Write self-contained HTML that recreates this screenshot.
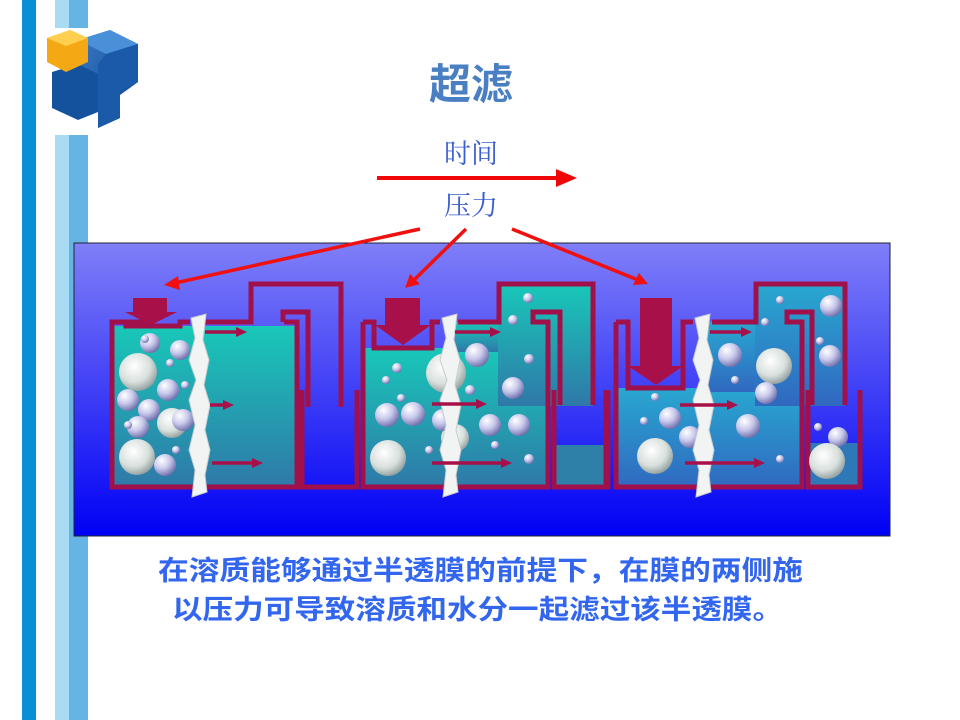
<!DOCTYPE html>
<html><head><meta charset="utf-8"><style>
html,body{margin:0;padding:0;background:#fff;width:960px;height:720px;overflow:hidden}
svg{display:block}
</style></head><body>
<svg width="960" height="720" viewBox="0 0 960 720" xmlns="http://www.w3.org/2000/svg">
<defs>
<linearGradient id="bg" x1="0" y1="0" x2="0" y2="1"><stop offset="0" stop-color="#7f7ff8"/><stop offset="1" stop-color="#0000f5"/></linearGradient>
<linearGradient id="fl" x1="0" y1="0" x2="0" y2="1"><stop offset="0" stop-color="#18c8b8"/><stop offset="1" stop-color="#2f78a8"/></linearGradient>
<linearGradient id="fl3" x1="0" y1="0" x2="0" y2="1"><stop offset="0" stop-color="#28a8d0"/><stop offset="1" stop-color="#3068c0"/></linearGradient>
<radialGradient id="b1" cx="0.35" cy="0.3" r="0.75"><stop offset="0" stop-color="#ffffff"/><stop offset="0.5" stop-color="#c8c8ec"/><stop offset="1" stop-color="#6a6aa8"/></radialGradient>
<radialGradient id="b2" cx="0.4" cy="0.35" r="0.7"><stop offset="0" stop-color="#ffffff"/><stop offset="0.6" stop-color="#d8e0dc"/><stop offset="1" stop-color="#8a9898"/></radialGradient>
<linearGradient id="cubeB" x1="0" y1="0" x2="1" y2="1"><stop offset="0" stop-color="#3a7cc8"/><stop offset="1" stop-color="#0d3f88"/></linearGradient>
</defs>

<rect x="22" y="0" width="14" height="720" fill="#0a8fd4"/>
<rect x="55" y="0" width="14" height="720" fill="#a8dcf5"/>
<rect x="69" y="0" width="19" height="720" fill="#66b4e4"/>
<rect x="50" y="28" width="42" height="107" fill="#fff"/>
<!-- logo -->
<polygon points="78,40 110,30 138,44 138,82 120,95 120,118 98,128 98,96 78,86" fill="url(#cubeB)"/>
<polygon points="78,40 110,30 138,44 106,54" fill="#4a90d8"/>
<polygon points="106,54 138,44 138,82 120,92 120,118 98,128 98,64" fill="#1a5aa8"/>
<polygon points="52,72 78,64 98,74 98,112 78,120 52,108" fill="#15529e"/>
<polygon points="47,38 70,30 88,38 88,62 66,72 47,62" fill="#f4a814"/>
<polygon points="47,38 70,30 88,38 66,46" fill="#ffd050"/>

<text x="471" y="99" text-anchor="middle" font-family="Liberation Sans,Noto Sans CJK SC,sans-serif" font-weight="bold" font-size="42" fill="#4a7fc1">超滤</text>
<text x="471" y="163" text-anchor="middle" font-family="Liberation Serif,Noto Serif CJK SC,serif" font-size="27" fill="#3a5fcd">时间</text>
<text x="471" y="215" text-anchor="middle" font-family="Liberation Serif,Noto Serif CJK SC,serif" font-size="27" fill="#3a5fcd">压力</text>
<line x1="377" y1="178" x2="560" y2="178" stroke="#f00808" stroke-width="4"/>
<polygon points="556,169 577,178 556,187" fill="#f00808"/>

<rect x="74" y="243" width="816" height="293" fill="url(#bg)" stroke="#223" stroke-width="1"/>

<g stroke="#f01010" stroke-width="3.5" fill="#f01010">
<line x1="420" y1="229" x2="175" y2="283"/><polygon points="164,285 178,276 180,290" stroke="none"/>
<line x1="466" y1="229" x2="414" y2="280"/><polygon points="405,288 410,274 420,284" stroke="none"/>
<line x1="512" y1="229" x2="638" y2="280"/><polygon points="648,284 633,285 639,273" stroke="none"/>
</g>

<!-- TANK 1 -->
<rect x="110" y="326" width="187" height="162" fill="url(#fl)"/>
<g fill="none" stroke="#a0104a" stroke-width="5">
<path d="M152,322 L112,322 L112,487 L297,487 L297,322 L284,322"/>
<path d="M126,322 L126,326 L180,326 L180,322 L190,322"/>
<path d="M205,322 L251,322 L251,284 L341,284 L341,407"/>
<path d="M283,322 L283,312 L308,312 L308,407"/>
<path d="M298,487 L357,487 L357,390"/>
<path d="M302,390 L302,487"/>
</g>
<polygon points="133,298 167,298 167,312 177,312 151,325 125,312 133,312" fill="#a8104a"/>

<!-- TANK 2 -->
<rect x="363" y="348" width="185" height="140" fill="url(#fl)"/>
<rect x="455" y="322" width="93" height="30" fill="url(#fl)"/>
<rect x="498" y="284" width="95" height="122" fill="url(#fl)"/>
<rect x="553" y="445" width="55" height="43" fill="#2f80a8"/>
<g fill="none" stroke="#a0104a" stroke-width="5">
<path d="M363,322 L363,487 L548,487 L548,322 L533,322 L533,312 L560,312 L560,405"/>
<path d="M363,322 L374,322 L374,348 L432,348 L432,322 L440,322"/>
<path d="M458,322 L499,322 L499,284 L593,284 L593,405"/>
<path d="M554,390 L554,487 L608,487 L608,390"/>
</g>
<polygon points="385,298 420,298 420,325 431,325 403,345 375,325 385,325" fill="#a8104a"/>

<!-- TANK 3 -->
<rect x="616" y="388" width="186" height="100" fill="url(#fl3)"/>
<rect x="705" y="322" width="97" height="70" fill="url(#fl3)"/>
<rect x="755" y="284" width="90" height="122" fill="url(#fl3)"/>
<rect x="808" y="443" width="52" height="45" fill="#2f78b8"/>
<g fill="none" stroke="#a0104a" stroke-width="5">
<path d="M616,322 L616,487 L802,487 L802,322 L787,322 L787,312 L812,312 L812,405"/>
<path d="M616,322 L628,322 L628,388 L683,388 L683,322 L693,322"/>
<path d="M712,322 L756,322 L756,284 L845,284 L845,405"/>
<path d="M808,390 L808,487 L860,487 L860,390"/>
<path d="M606,390 L606,487"/>
</g>
<polygon points="640,298 672,298 672,366 683,366 656,385 628,366 640,366" fill="#a8104a"/>

<!-- balls -->
<g>
<circle cx="138" cy="372" r="19" fill="url(#b2)"/>
<circle cx="150" cy="343" r="10" fill="url(#b1)"/>
<circle cx="180" cy="350" r="10" fill="url(#b1)"/>
<circle cx="128" cy="400" r="11" fill="url(#b1)"/>
<circle cx="168" cy="390" r="11" fill="url(#b1)"/>
<circle cx="149" cy="410" r="11" fill="url(#b1)"/>
<circle cx="172" cy="423" r="15" fill="url(#b2)"/>
<circle cx="183" cy="420" r="11" fill="url(#b1)"/>
<circle cx="138" cy="427" r="11" fill="url(#b1)"/>
<circle cx="137" cy="457" r="18" fill="url(#b2)"/>
<circle cx="165" cy="465" r="11" fill="url(#b1)"/>
<circle cx="145" cy="339" r="4" fill="url(#b1)"/>
<circle cx="170" cy="363" r="4" fill="url(#b1)"/>
<circle cx="185" cy="385" r="4" fill="url(#b1)"/>
<circle cx="176" cy="450" r="4" fill="url(#b1)"/>
<circle cx="128" cy="425" r="4" fill="url(#b1)"/>

<circle cx="446" cy="373" r="20" fill="url(#b2)"/>
<circle cx="455" cy="438" r="14" fill="url(#b2)"/>
<circle cx="443" cy="420" r="11" fill="url(#b1)"/>
<circle cx="477" cy="355" r="12" fill="url(#b1)"/>
<circle cx="413" cy="414" r="12" fill="url(#b1)"/>
<circle cx="387" cy="415" r="12" fill="url(#b1)"/>
<circle cx="388" cy="458" r="18" fill="url(#b2)"/>
<circle cx="513" cy="388" r="11" fill="url(#b1)"/>
<circle cx="490" cy="425" r="11" fill="url(#b1)"/>
<circle cx="519" cy="425" r="11" fill="url(#b1)"/>
<circle cx="397" cy="368" r="5" fill="url(#b1)"/>
<circle cx="386" cy="380" r="4" fill="url(#b1)"/>
<circle cx="401" cy="398" r="4" fill="url(#b1)"/>
<circle cx="470" cy="390" r="5" fill="url(#b1)"/>
<circle cx="495" cy="445" r="4" fill="url(#b1)"/>
<circle cx="529" cy="459" r="5" fill="url(#b1)"/>
<circle cx="528" cy="298" r="5" fill="url(#b1)"/>
<circle cx="513" cy="320" r="5" fill="url(#b1)"/>
<circle cx="529" cy="359" r="5" fill="url(#b1)"/>
<circle cx="429" cy="450" r="4" fill="url(#b1)"/>

<circle cx="774" cy="366" r="18" fill="url(#b2)"/>
<circle cx="766" cy="393" r="11" fill="url(#b1)"/>
<circle cx="730" cy="355" r="12" fill="url(#b1)"/>
<circle cx="748" cy="426" r="12" fill="url(#b1)"/>
<circle cx="670" cy="418" r="11" fill="url(#b1)"/>
<circle cx="690" cy="437" r="11" fill="url(#b1)"/>
<circle cx="655" cy="456" r="18" fill="url(#b2)"/>
<circle cx="831" cy="306" r="11" fill="url(#b1)"/>
<circle cx="830" cy="356" r="11" fill="url(#b1)"/>
<circle cx="838" cy="437" r="10" fill="url(#b1)"/>
<circle cx="827" cy="461" r="18" fill="url(#b2)"/>
<circle cx="655" cy="397" r="4" fill="url(#b1)"/>
<circle cx="644" cy="421" r="4" fill="url(#b1)"/>
<circle cx="735" cy="380" r="4" fill="url(#b1)"/>
<circle cx="780" cy="459" r="4" fill="url(#b1)"/>
<circle cx="765" cy="322" r="4" fill="url(#b1)"/>
<circle cx="780" cy="300" r="4" fill="url(#b1)"/>
<circle cx="820" cy="341" r="4" fill="url(#b1)"/>
<circle cx="818" cy="427" r="4" fill="url(#b1)"/>
</g>

<!-- membranes -->
<g fill="#f2f4f4" stroke="#c8cccc" stroke-width="1">
<path d="M191,318 L206,314 L203,340 L209,360 L204,385 L210,405 L205,430 L210,450 L205,475 L207,492 L192,497 L195,470 L189,450 L195,425 L189,400 L196,380 L189,360 L195,338 Z"/>
<path d="M442,318 L457,314 L454,340 L460,360 L455,385 L461,405 L456,430 L461,450 L456,475 L458,492 L443,497 L446,470 L440,450 L446,425 L440,400 L447,380 L440,360 L446,338 Z"/>
<path d="M695,318 L710,314 L707,340 L713,360 L708,385 L714,405 L709,430 L714,450 L709,475 L711,492 L696,497 L699,470 L693,450 L699,425 L693,400 L700,380 L693,360 L699,338 Z"/>
</g>

<!-- inner flow arrows -->
<g stroke="#a8104a" stroke-width="3.5" fill="#a8104a">
<line x1="205" y1="332" x2="238" y2="332"/><polygon points="236,327 247,332 236,337" stroke="none"/>
<line x1="210" y1="405" x2="225" y2="405"/><polygon points="223,400 234,405 223,410" stroke="none"/>
<line x1="212" y1="463" x2="254" y2="463"/><polygon points="252,458 263,463 252,468" stroke="none"/>
<line x1="455" y1="332" x2="492" y2="332"/><polygon points="490,327 501,332 490,337" stroke="none"/>
<line x1="432" y1="404" x2="478" y2="404"/><polygon points="476,399 487,404 476,409" stroke="none"/>
<line x1="432" y1="463" x2="503" y2="463"/><polygon points="501,458 512,463 501,468" stroke="none"/>
<line x1="710" y1="332" x2="743" y2="332"/><polygon points="741,327 752,332 741,337" stroke="none"/>
<line x1="680" y1="405" x2="729" y2="405"/><polygon points="727,400 738,405 727,410" stroke="none"/>
<line x1="685" y1="463" x2="756" y2="463"/><polygon points="754,458 765,463 754,468" stroke="none"/>
</g>

<text x="158" y="580" textLength="645" lengthAdjust="spacingAndGlyphs" font-family="Liberation Sans,Noto Sans CJK SC,sans-serif" font-weight="bold" font-size="27" fill="#3366ee">在溶质能够通过半透膜的前提下，在膜的两侧施</text>
<text x="172" y="619" textLength="611" lengthAdjust="spacingAndGlyphs" font-family="Liberation Sans,Noto Sans CJK SC,sans-serif" font-weight="bold" font-size="27" fill="#3366ee">以压力可导致溶质和水分一起滤过该半透膜。</text>
</svg>
</body></html>
